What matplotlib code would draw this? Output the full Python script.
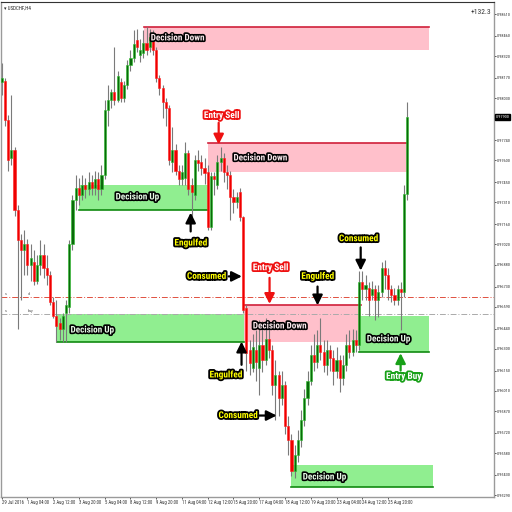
import matplotlib
matplotlib.use('Agg')
import matplotlib.pyplot as plt
import matplotlib.patheffects as pe
from matplotlib.patches import Rectangle
from matplotlib.transforms import blended_transform_factory

symbol = "USDCHF,H4"
profit_label = "+132.3"

opens = [0.9814, 0.9815, 0.9788, 0.9762, 0.9767, 0.9726, 0.9705, 0.9698, 0.9702, 0.9688,
         0.9690, 0.9677, 0.9688, 0.9695, 0.9686, 0.9681, 0.9662, 0.9653, 0.9648, 0.9644,
         0.9655, 0.9659, 0.9702, 0.9733, 0.9741, 0.9736, 0.9743, 0.9740, 0.9745, 0.9741,
         0.9747, 0.9740, 0.9750, 0.9795, 0.9802, 0.9807, 0.9802, 0.9814, 0.9803, 0.9812,
         0.9826, 0.9831, 0.9843, 0.9833, 0.9834, 0.9841, 0.9838, 0.9845, 0.9836, 0.9817,
         0.9810, 0.9800, 0.9796, 0.9759, 0.9767, 0.9753, 0.9747, 0.9748, 0.9765, 0.9743,
         0.9736, 0.9760, 0.9759, 0.9755, 0.9752, 0.9714, 0.9749, 0.9743, 0.9759, 0.9762,
         0.9752, 0.9750, 0.9735, 0.9731, 0.9738, 0.9721, 0.9658, 0.9629, 0.9617, 0.9629,
         0.9617, 0.9633, 0.9622, 0.9637, 0.9629, 0.9605, 0.9612, 0.9596, 0.9605, 0.9577,
         0.9567, 0.9546, 0.9557, 0.9567, 0.9581, 0.9596, 0.9608, 0.9626, 0.9621, 0.9633,
         0.9628, 0.9619, 0.9629, 0.9624, 0.9615, 0.9622, 0.9610, 0.9619, 0.9633, 0.9628,
         0.9636, 0.9633, 0.9676, 0.9671, 0.9672, 0.9667, 0.9671, 0.9664, 0.9669, 0.9686,
         0.9681, 0.9671, 0.9667, 0.9664, 0.9671, 0.9669, 0.9737]
highs = [0.9827, 0.9817, 0.9791, 0.9805, 0.9769, 0.9729, 0.9709, 0.9712, 0.9706, 0.9702,
         0.9698, 0.9695, 0.9705, 0.9702, 0.9695, 0.9684, 0.9666, 0.9664, 0.9651, 0.9655,
         0.9664, 0.9705, 0.9736, 0.9750, 0.9748, 0.9750, 0.9748, 0.9752, 0.9750, 0.9753,
         0.9752, 0.9757, 0.9802, 0.9812, 0.9809, 0.9838, 0.9822, 0.9817, 0.9815, 0.9829,
         0.9836, 0.9850, 0.9851, 0.9844, 0.9850, 0.9852, 0.9851, 0.9850, 0.9838, 0.9819,
         0.9812, 0.9803, 0.9798, 0.9783, 0.9771, 0.9757, 0.9757, 0.9773, 0.9767, 0.9748,
         0.9764, 0.9767, 0.9764, 0.9762, 0.9757, 0.9752, 0.9752, 0.9764, 0.9769, 0.9765,
         0.9757, 0.9753, 0.9740, 0.9738, 0.9741, 0.9722, 0.9660, 0.9636, 0.9640, 0.9643,
         0.9650, 0.9649, 0.9651, 0.9646, 0.9633, 0.9622, 0.9615, 0.9615, 0.9608, 0.9584,
         0.9571, 0.9564, 0.9574, 0.9588, 0.9602, 0.9615, 0.9633, 0.9640, 0.9643, 0.9651,
         0.9636, 0.9636, 0.9633, 0.9629, 0.9631, 0.9626, 0.9626, 0.9640, 0.9643, 0.9644,
         0.9643, 0.9684, 0.9684, 0.9681, 0.9676, 0.9677, 0.9674, 0.9674, 0.9690, 0.9691,
         0.9686, 0.9674, 0.9672, 0.9674, 0.9676, 0.9743, 0.9800]
lows = [0.9805, 0.9784, 0.9753, 0.9757, 0.9722, 0.9644, 0.9664, 0.9681, 0.9681, 0.9677,
        0.9674, 0.9675, 0.9681, 0.9679, 0.9674, 0.9660, 0.9651, 0.9635, 0.9636, 0.9635,
        0.9635, 0.9655, 0.9698, 0.9726, 0.9729, 0.9733, 0.9734, 0.9736, 0.9736, 0.9736,
        0.9733, 0.9736, 0.9747, 0.9784, 0.9796, 0.9798, 0.9800, 0.9800, 0.9800, 0.9809,
        0.9822, 0.9828, 0.9835, 0.9828, 0.9831, 0.9833, 0.9835, 0.9833, 0.9814, 0.9805,
        0.9789, 0.9784, 0.9757, 0.9752, 0.9750, 0.9743, 0.9743, 0.9743, 0.9736, 0.9721,
        0.9733, 0.9753, 0.9750, 0.9744, 0.9712, 0.9712, 0.9736, 0.9740, 0.9753, 0.9745,
        0.9740, 0.9719, 0.9724, 0.9727, 0.9718, 0.9655, 0.9615, 0.9612, 0.9614, 0.9608,
        0.9598, 0.9614, 0.9619, 0.9624, 0.9598, 0.9581, 0.9584, 0.9591, 0.9571, 0.9557,
        0.9542, 0.9541, 0.9552, 0.9562, 0.9577, 0.9591, 0.9605, 0.9615, 0.9617, 0.9622,
        0.9614, 0.9612, 0.9615, 0.9605, 0.9610, 0.9600, 0.9605, 0.9615, 0.9624, 0.9625,
        0.9628, 0.9629, 0.9664, 0.9664, 0.9653, 0.9664, 0.9650, 0.9652, 0.9666, 0.9671,
        0.9664, 0.9662, 0.9660, 0.9660, 0.9643, 0.9666, 0.9733]
closes = [0.9817, 0.9788, 0.9760, 0.9767, 0.9726, 0.9705, 0.9698, 0.9702, 0.9688, 0.9693,
          0.9677, 0.9688, 0.9695, 0.9686, 0.9681, 0.9662, 0.9653, 0.9646, 0.9644, 0.9653,
          0.9660, 0.9702, 0.9733, 0.9741, 0.9736, 0.9743, 0.9740, 0.9745, 0.9741, 0.9747,
          0.9740, 0.9750, 0.9795, 0.9802, 0.9807, 0.9802, 0.9818, 0.9803, 0.9812, 0.9826,
          0.9831, 0.9840, 0.9838, 0.9836, 0.9841, 0.9836, 0.9845, 0.9836, 0.9817, 0.9810,
          0.9800, 0.9796, 0.9760, 0.9767, 0.9753, 0.9747, 0.9752, 0.9765, 0.9740, 0.9738,
          0.9760, 0.9758, 0.9755, 0.9751, 0.9714, 0.9749, 0.9747, 0.9759, 0.9762, 0.9752,
          0.9750, 0.9735, 0.9731, 0.9735, 0.9721, 0.9657, 0.9627, 0.9620, 0.9631, 0.9621,
          0.9633, 0.9622, 0.9637, 0.9629, 0.9605, 0.9612, 0.9596, 0.9605, 0.9577, 0.9567,
          0.9546, 0.9557, 0.9567, 0.9581, 0.9596, 0.9608, 0.9626, 0.9621, 0.9633, 0.9628,
          0.9619, 0.9629, 0.9624, 0.9615, 0.9622, 0.9610, 0.9619, 0.9633, 0.9628, 0.9636,
          0.9633, 0.9676, 0.9671, 0.9674, 0.9664, 0.9671, 0.9664, 0.9669, 0.9686, 0.9681,
          0.9671, 0.9667, 0.9664, 0.9671, 0.9669, 0.9737, 0.9790]

x_tick_bars = [0, 8, 16, 24, 32, 40, 48, 56, 64, 72, 80, 88, 96, 104, 112, 120]
x_tick_labels = ["29 Jul 2016", "1 Aug 04:00", "2 Aug 12:00", "3 Aug 20:00", "5 Aug 04:00",
                 "8 Aug 12:00", "9 Aug 20:00", "11 Aug 04:00", "12 Aug 12:00", "15 Aug 20:00",
                 "17 Aug 04:00", "18 Aug 12:00", "19 Aug 20:00", "23 Aug 04:00", "24 Aug 12:00",
                 "25 Aug 20:00"]
y_tick_values = [0.95290, 0.95430, 0.95580, 0.95720, 0.95870, 0.96010, 0.96150, 0.96300,
                 0.96440, 0.96590, 0.96730, 0.96880, 0.97020, 0.97160, 0.97310, 0.97450,
                 0.97600, 0.97740, 0.97880, 0.98030, 0.98170, 0.98320, 0.98460, 0.98610]

# supply / demand zones
zone_names = ["Decision Down", "Decision Up", "Decision Down", "Decision Up",
              "Decision Down", "Decision Up", "Decision Up"]
zone_kinds = ["down", "up", "down", "up", "down", "up", "up"]
zone_start = [44.1, 23.9, 64.0, 17.1, 75.2, 110.9, 89.8]
zone_end = [132.6, 64.0, 125.8, 75.2, 111.5, 132.6, 133.9]
zone_low = [0.9836, 0.9726, 0.9752, 0.9635, 0.9635, 0.9628, 0.9535]
zone_high = [0.9852, 0.9743, 0.9772, 0.9654, 0.9660, 0.9653, 0.9550]
zone_label_x = [46.3, 35.4, 72.0, 21.4, 78.0, 113.4, 93.5]
zone_label_y = [0.98445, 0.97348, 0.97617, 0.96430, 0.96458, 0.96368, 0.95416]

sell_line = 0.9666
buy_line = 0.9654

# annotations: text, style, text x, text y, arrow start (x, y), arrow end (x, y)
notes = [
    ("Engulfed", "yellow", 58.7, 0.9703, (58.7, 0.9711), (58.7, 0.9724)),
    ("Entry Sell", "red", 68.3, 0.9791, (67.4, 0.9786), (67.4, 0.9771)),
    ("Consumed", "yellow", 63.6, 0.9680, (70.5, 0.9680), (74.6, 0.9680)),
    ("Entry Sell", "red", 83.5, 0.9686, (83.2, 0.9679), (83.2, 0.9661)),
    ("Engulfed", "yellow", 98.1, 0.9680, (98.1, 0.9673), (98.1, 0.9660)),
    ("Consumed", "yellow", 110.8, 0.9706, (111.5, 0.9700), (111.5, 0.9684)),
    ("Engulfed", "yellow", 69.6, 0.9612, (74.5, 0.9619), (74.5, 0.9635)),
    ("Consumed", "yellow", 73.4, 0.9584, (79.8, 0.9584), (85.4, 0.9584)),
    ("Entry Buy", "green", 124.8, 0.9611, (123.9, 0.9615), (123.9, 0.9627)),
]

COND = ["Roboto Condensed", "DejaVu Sans"]

fig = plt.figure(figsize=(5.12, 5.12), dpi=100)
ax = fig.add_axes([1 / 512, 15 / 512, 493 / 512, 495 / 512])
ax.set_xlim(-0.2, 152.9)
ax.set_ylim(0.95278, 0.98693)

# zones
for k in range(len(zone_names)):
    down = zone_kinds[k] == "down"
    fc = "#ffc0cb" if down else "#90ee90"
    ax.add_patch(Rectangle((zone_start[k], zone_low[k]), zone_end[k] - zone_start[k],
                           zone_high[k] - zone_low[k], facecolor=fc, edgecolor="none", zorder=1))
    if down:
        ax.plot([zone_start[k], zone_end[k]], [zone_high[k], zone_high[k]], color="#d0203a", lw=1.2, zorder=1.5)
    else:
        ax.plot([zone_start[k], zone_end[k]], [zone_low[k], zone_low[k]], color="#108a10", lw=1.2, zorder=1.5)

# order lines
ax.axhline(sell_line, color="#e05040", lw=0.7, ls=(0, (6, 2, 1, 2)), zorder=1.2)
ax.axhline(buy_line, color="#aaaaaa", lw=0.7, ls=(0, (6, 2, 1, 2)), zorder=1.2)
for tx, ty, tt in [(1.0, sell_line, "s"), (8.0, sell_line, "d"), (1.0, buy_line, "s"), (8.0, buy_line, "buy")]:
    ax.text(tx, ty + 0.00005, tt, fontsize=3, color="#555555", va="bottom", family=COND)

# candles
n = len(closes)
xs = list(range(n))
ax.vlines(xs, lows, highs, color="#7a7a7a", lw=0.8, zorder=2)
for i in xs:
    o, c = opens[i], closes[i]
    bull = c >= o
    bottom = min(o, c)
    h = max(abs(c - o), 0.00004)
    ax.bar(i, h, bottom=bottom, width=0.66,
           color="#0a6a0a" if bull else "#ee0000",
           edgecolor="#2cc02c" if bull else "#ff2020", linewidth=0.4, zorder=3)

# zone labels
for k in range(len(zone_names)):
    ax.text(zone_label_x[k], zone_label_y[k], zone_names[k], fontsize=6.6, fontweight="bold",
            family=COND,
            color="#fbe8ec" if zone_kinds[k] == "down" else "#e8fbe8", ha="left", va="center",
            path_effects=[pe.withStroke(linewidth=2.4, foreground="black")], zorder=6)

# annotations
for txt, style, tx, ty, a0, a1 in notes:
    if style == "yellow":
        tc, sc, ac = "#ffff00", "black", "black"
    elif style == "red":
        tc, sc, ac = "white", "#ee1111", "#ee1111"
    else:
        tc, sc, ac = "white", "#18a018", "#18a018"
    ax.text(tx, ty, txt, fontsize=6.7, fontweight="bold", color=tc, ha="center", va="center",
            family=COND, path_effects=[pe.withStroke(linewidth=2.6, foreground=sc)], zorder=7)
    ax.annotate("", xy=a1, xytext=a0,
                arrowprops=dict(arrowstyle="-|>,head_width=0.3,head_length=0.6", color=ac, lw=1.6,
                                shrinkA=0, shrinkB=0), zorder=7)

# axes styling
ax.yaxis.tick_right()
ax.set_yticks(y_tick_values)
ax.set_yticklabels([f"{v:.5f}" for v in y_tick_values], fontsize=3.2, color="#333333", family=COND)
ax.set_xticks(x_tick_bars)
ax.set_xticklabels(x_tick_labels, fontsize=3.4, color="#333333", ha="left", family=COND)
ax.tick_params(axis="both", length=1.6, width=0.6, color="#333333", pad=0.6)
for s in ["left", "bottom", "right"]:
    ax.spines[s].set_color("#9a9a9a")
    ax.spines[s].set_linewidth(1.0)
ax.spines["top"].set_color("#333333")

ax.text(0.006, 0.992, "\u25be " + symbol, transform=ax.transAxes, fontsize=3.6, color="#222222",
        va="top", ha="left", family=COND)
ax.text(0.995, 0.978, profit_label, transform=ax.transAxes, fontsize=5.4, color="#333333",
        va="center", ha="right", family=COND)

tr = blended_transform_factory(ax.transAxes, ax.transData)
ax.text(1.003, closes[-1], f"{closes[-1]:.5f}", transform=tr, fontsize=3.2, color="white",
        va="center", ha="left", zorder=10, family=COND,
        bbox=dict(boxstyle="square,pad=0.2", facecolor="black", edgecolor="black"), clip_on=False)

fig.savefig("out.png", dpi=100, facecolor="white")
